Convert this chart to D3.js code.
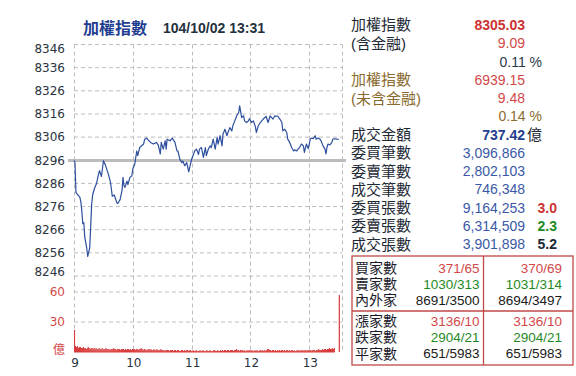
<!DOCTYPE html>
<html><head><meta charset="utf-8">
<script src="https://cdn.jsdelivr.net/npm/d3@7/dist/d3.min.js"></script>
<style>
html,body{margin:0;padding:0;background:#fff;}
svg{display:block;}
text{font-family:"Liberation Sans",Arial,"Noto Sans CJK TC",sans-serif;}
</style></head>
<body>
<svg id="c" width="576" height="376"></svg>
<script>
// ---------- DATA ----------
const titleName = "加權指數";
const titleTime = "104/10/02 13:31";
const prevClose = 8295.94;
const priceTicks = [8346, 8336, 8326, 8316, 8306, 8296, 8286, 8276, 8266, 8256, 8246];
const volTicks = [60, 30];
const volUnit = "億";
const hourTicks = [9, 10, 11, 12, 13];

// minutes after 09:00 and index value
const priceMinutes = [0,1,2,4,6,7,8,9,10,11,13,14,16,17,18,19,21,23,25,26,28,30,32,35,37,38,39,41,44,45,47,49,50,51,52,54,55,57,59,60,62,64,65,67,71,72,74,78,81,84,86,88,89,91,93,94,95,98,100,101,103,105,106,108,110,111,113,115,117,118,120,122,123,125,127,128,130,132,134,135,137,139,140,142,144,146,147,149,151,152,154,156,157,159,161,162,164,166,168,169,171,173,174,176,178,179,181,183,185,186,188,190,193,196,198,200,203,205,208,210,212,213,215,217,218,220,222,224,225,227,229,230,232,234,235,237,239,241,242,244,246,247,249,251,252,254,256,257,258,259,261,263,264,266,268,270];
const priceValues = [8295.9,8295.0,8282.0,8281.0,8280.0,8278.0,8274.0,8268.6,8269.0,8262.7,8258.0,8254.5,8258.0,8267.0,8277.0,8281.0,8284.0,8286.0,8290.0,8291.5,8289.0,8295.8,8294.0,8290.0,8287.0,8284.0,8280.5,8281.0,8277.4,8277.5,8279.0,8283.0,8288.6,8285.0,8284.3,8287.0,8285.5,8288.6,8289.3,8292.2,8294.4,8300.0,8298.0,8301.5,8303.0,8305.0,8305.6,8303.7,8303.0,8303.7,8302.5,8298.7,8303.7,8300.8,8304.4,8300.8,8305.1,8304.4,8305.6,8305.0,8303.7,8300.0,8300.0,8296.4,8295.0,8295.7,8293.6,8295.0,8291.0,8292.9,8296.4,8298.7,8300.0,8300.8,8298.5,8300.8,8301.5,8297.2,8301.5,8298.0,8300.8,8302.2,8301.5,8305.1,8300.8,8305.8,8303.0,8306.6,8302.2,8307.3,8309.4,8306.6,8308.0,8310.1,8308.7,8310.9,8313.0,8315.2,8316.6,8319.5,8314.4,8315.2,8313.0,8312.3,8313.0,8314.0,8312.3,8313.0,8310.5,8308.0,8310.9,8312.3,8313.8,8314.9,8312.3,8315.2,8313.8,8315.2,8315.0,8313.8,8312.3,8308.7,8309.4,8308.0,8305.1,8303.7,8301.5,8300.0,8300.5,8300.0,8301.0,8301.5,8303.0,8302.2,8299.4,8303.0,8301.0,8305.1,8305.6,8305.3,8306.6,8305.1,8305.6,8305.1,8304.4,8302.2,8300.8,8298.7,8301.5,8303.0,8302.6,8303.7,8305.1,8305.3,8305.1,8305.0];

// volume (億) per minute, 09:00 .. 13:25, plus closing auction at 13:30
const volValues = [22,6,5,6,4,5,5,4,4,5,4,4,3,4,5,4,3,4,4,3,4,3,4,3,3,4,3,3,4,3,
3,3,4,3,3,3,2,3,3,3,4,3,3,2,3,3,3,2,3,3,3,2,3,2,3,3,2,3,2,3,
3,3,2,3,3,2,3,3,4,3,2,3,3,2,2,3,3,2,3,2,2,3,2,2,3,2,2,2,3,2,
2,2,1,2,2,2,2,1,2,2,2,1,2,2,1,2,2,1,1,2,2,1,2,1,2,2,1,2,2,1,
1,2,1,1,2,1,1,1,2,1,1,2,1,1,1,2,1,1,2,1,1,1,2,2,1,1,2,1,1,2,
1,2,1,2,2,1,2,2,1,2,2,2,1,2,2,3,2,2,1,2,2,2,1,2,1,1,2,1,2,2,
1,2,1,1,2,1,2,1,1,2,2,1,2,1,2,1,2,3,3,2,2,1,2,2,1,2,1,2,1,2,
1,2,2,1,2,1,2,2,1,2,1,2,2,1,2,1,1,2,2,1,2,1,2,2,1,2,2,1,2,2,
2,2,1,2,2,2,1,2,2,3,2,2,2,3,2,3,3,2,3,3,4,3,3,4,3,4];
const closeVolMinute = 270;
const closeVol = 57;

// info panel
const infoLabels = ["加權指數","(含金融)","","加權指數","(未含金融)","","成交金額","委買筆數","委賣筆數","成交筆數","委買張數","委賣張數","成交張數"];
const infoValues = ["8305.03","9.09","0.11 %","6939.15","9.48","0.14 %","737.42","3,096,866","2,802,103","746,348","9,164,253","6,314,509","3,901,898"];
const infoExtras = ["","","","","","","億","","","","3.0","2.3","5.2"];

// breadth table
const tableLabels1 = ["買家數","賣家數","內外家"];
const tableLeft1 = ["371/65","1030/313","8691/3500"];
const tableRight1 = ["370/69","1031/314","8694/3497"];
const tableLabels2 = ["漲家數","跌家數","平家數"];
const tableLeft2 = ["3136/10","2904/21","651/5983"];
const tableRight2 = ["3136/10","2904/21","651/5983"];

// ---------- STYLE / LAYOUT ----------
const C = {blue:"#1f3e8f", line:"#2d4f9e", red:"#d24848", dred:"#cc3333", green:"#1f8a1f",
  dark:"#1e2a36", brown:"#8a6a2e", grid:"#bdbdbd", ref:"#bcbcbd", vol:"#d83c3c", border:"#c04848", axis:"#2b3440"};
const L = {left:74, plotRight:342, priceTop:44.5, priceBot:276, volTop:292, volBot:352};

const svg = d3.select("#c");
svg.append("rect").attr("width",576).attr("height",376).attr("fill","#fff");

const x = d3.scaleLinear().domain([0,240]).range([L.left,309.3]);
const y = d3.scaleLinear().domain([8246,8346]).range([L.priceBot,L.priceTop]);
const yv = d3.scaleLinear().domain([0,60]).range([L.volBot,L.volTop]);

// title
svg.append("text").attr("x",83).attr("y",28).attr("dy","0.35em")
  .attr("font-size",16).attr("font-weight","bold").attr("fill",C.blue)
  .style("font-family","'Noto Sans CJK TC',sans-serif").text(titleName);
svg.append("text").attr("x",163).attr("y",28).attr("dy","0.35em")
  .attr("font-size",14).attr("font-weight","bold").attr("fill","#24313e").text(titleTime);

// grids
const g = svg.append("g");
priceTicks.forEach(v=>{
  g.append("line").attr("x1",L.left).attr("x2",L.plotRight).attr("y1",y(v)).attr("y2",y(v))
   .attr("stroke",C.grid).attr("stroke-dasharray","4,3");
});
volTicks.forEach(v=>{
  g.append("line").attr("x1",L.left).attr("x2",L.plotRight).attr("y1",yv(v)).attr("y2",yv(v))
   .attr("stroke",C.grid).attr("stroke-dasharray","4,3");
});
hourTicks.forEach(h=>{
  const xx = Math.round(x((h-9)*60))+0.5;
  g.append("line").attr("x1",xx).attr("x2",xx).attr("y1",L.priceTop).attr("y2",L.volBot)
   .attr("stroke",C.grid).attr("stroke-dasharray","4,3");
});
g.append("line").attr("x1",L.plotRight+0.5).attr("x2",L.plotRight+0.5).attr("y1",L.priceTop).attr("y2",L.volBot)
  .attr("stroke",C.grid).attr("stroke-dasharray","4,3");

// y labels
priceTicks.forEach((v,i)=>{
  let yy = y(v);
  if(i===0) yy += 4;
  if(i===priceTicks.length-1) yy -= 4;
  svg.append("text").attr("x",65).attr("y",yy).attr("dy","0.36em").attr("text-anchor","end")
    .attr("font-size",12).attr("fill",C.axis).style("font-family","'DejaVu Sans',sans-serif").text(v);
});
volTicks.forEach(v=>{
  svg.append("text").attr("x",65).attr("y",yv(v)).attr("dy","0.36em").attr("text-anchor","end")
    .attr("font-size",12).attr("fill",C.red).style("font-family","'DejaVu Sans',sans-serif").text(v);
});
svg.append("text").attr("x",65).attr("y",yv(0)-2).attr("dy","0.36em").attr("text-anchor","end")
  .attr("font-size",12).attr("fill",C.red).text(volUnit);
hourTicks.forEach(h=>{
  svg.append("text").attr("x",x((h-9)*60)+1).attr("y",363).attr("dy","0.36em").attr("text-anchor","middle")
    .attr("font-size",12).attr("fill",C.axis).style("font-family","'DejaVu Sans',sans-serif").text(h);
});

// reference line
svg.append("line").attr("x1",68).attr("x2",346).attr("y1",y(prevClose)).attr("y2",y(prevClose))
  .attr("stroke",C.ref).attr("stroke-width",3);

// price line
const pts = priceMinutes.map((m,i)=>[m,priceValues[i]]);
svg.append("path").datum(pts)
  .attr("d", d3.line().x(d=>x(d[0])).y(d=>y(d[1])))
  .attr("fill","none").attr("stroke",C.line).attr("stroke-width",1.2).attr("stroke-linejoin","round");

// volume bars
const vg = svg.append("g");
volValues.forEach((v,i)=>{
  vg.append("rect").attr("x",x(i)).attr("width",1.1).attr("y",yv(v)).attr("height",yv(0)-yv(v)).attr("fill",C.vol);
});
vg.append("rect").attr("x",x(closeVolMinute)).attr("width",1.2).attr("y",yv(closeVol)).attr("height",yv(0)-yv(closeVol)).attr("fill",C.vol);
svg.append("line").attr("x1",L.left).attr("x2",x(266)).attr("y1",yv(0)).attr("y2",yv(0)).attr("stroke",C.vol).attr("stroke-width",1);

// info panel
const rowY = [25,43.3,61.7,80,98.3,116.3,134.5,152.8,171.1,189.4,207.7,226,244.3];
const labelColor = [C.dark,C.dark,C.dark,C.brown,C.brown,C.brown,C.dark,C.dark,C.dark,C.dark,C.dark,C.dark,C.dark];
const valColor = [C.dred,C.red,"#2b3a48",C.red,C.red,C.brown,C.blue,"#3b58a6","#3b58a6","#3b58a6","#3b58a6","#3b58a6","#3b58a6"];
const valBold = [true,false,false,false,false,false,true,false,false,false,false,false,false];
const extraColor = ["","","","","","",C.dark,"","","",C.dred,C.green,"#1c2836"];
infoLabels.forEach((t,i)=>{
  if(t) svg.append("text").attr("x",351).attr("y",rowY[i]).attr("dy","0.36em")
    .attr("font-size",15).attr("fill",labelColor[i]).text(t);
  const pct = infoValues[i].indexOf("%")>=0;
  svg.append("text").attr("x",pct?542:525).attr("y",rowY[i]).attr("dy","0.36em").attr("text-anchor","end")
    .attr("font-size",14).attr("font-weight",valBold[i]?"bold":"normal").attr("fill",valColor[i]).text(infoValues[i]);
  if(infoExtras[i]){
    if(infoExtras[i]===volUnit){
      svg.append("text").attr("x",527).attr("y",rowY[i]).attr("dy","0.36em")
        .attr("font-size",15).attr("fill",extraColor[i]).text(infoExtras[i]);
    } else {
      svg.append("text").attr("x",557).attr("y",rowY[i]).attr("dy","0.36em").attr("text-anchor","end")
        .attr("font-size",14).attr("font-weight","bold").attr("fill",extraColor[i]).text(infoExtras[i]);
    }
  }
});

// breadth table
const T = {x1:352, x2:573, y1:256, y2:365, ymid:311, xmid:483.5};
svg.append("rect").attr("x",T.x1).attr("y",T.y1).attr("width",T.x2-T.x1).attr("height",T.y2-T.y1)
  .attr("fill","none").attr("stroke",C.border).attr("stroke-width",1.3);
svg.append("line").attr("x1",T.x1).attr("x2",T.x2).attr("y1",T.ymid).attr("y2",T.ymid).attr("stroke",C.border).attr("stroke-width",1.3);
svg.append("line").attr("x1",T.xmid).attr("x2",T.xmid).attr("y1",T.y1).attr("y2",T.y2).attr("stroke",C.border).attr("stroke-width",1.3);
const rowColors = [C.red, C.green, "#1a1a1a"];
function tableBlock(labels, lefts, rights, ys){
  labels.forEach((t,i)=>{
    svg.append("text").attr("x",355).attr("y",ys[i]).attr("dy","0.36em").attr("font-size",14)
      .attr("fill","#1a1a2a").text(t);
    svg.append("text").attr("x",479.5).attr("y",ys[i]).attr("dy","0.36em").attr("text-anchor","end")
      .attr("font-size",13.5).attr("fill",rowColors[i]).text(lefts[i]);
    svg.append("text").attr("x",562).attr("y",ys[i]).attr("dy","0.36em").attr("text-anchor","end")
      .attr("font-size",13.5).attr("fill",rowColors[i]).text(rights[i]);
  });
}
tableBlock(tableLabels1, tableLeft1, tableRight1, [268,284.2,300.4]);
tableBlock(tableLabels2, tableLeft2, tableRight2, [321.2,337.4,353.6]);
</script>
</body></html>
